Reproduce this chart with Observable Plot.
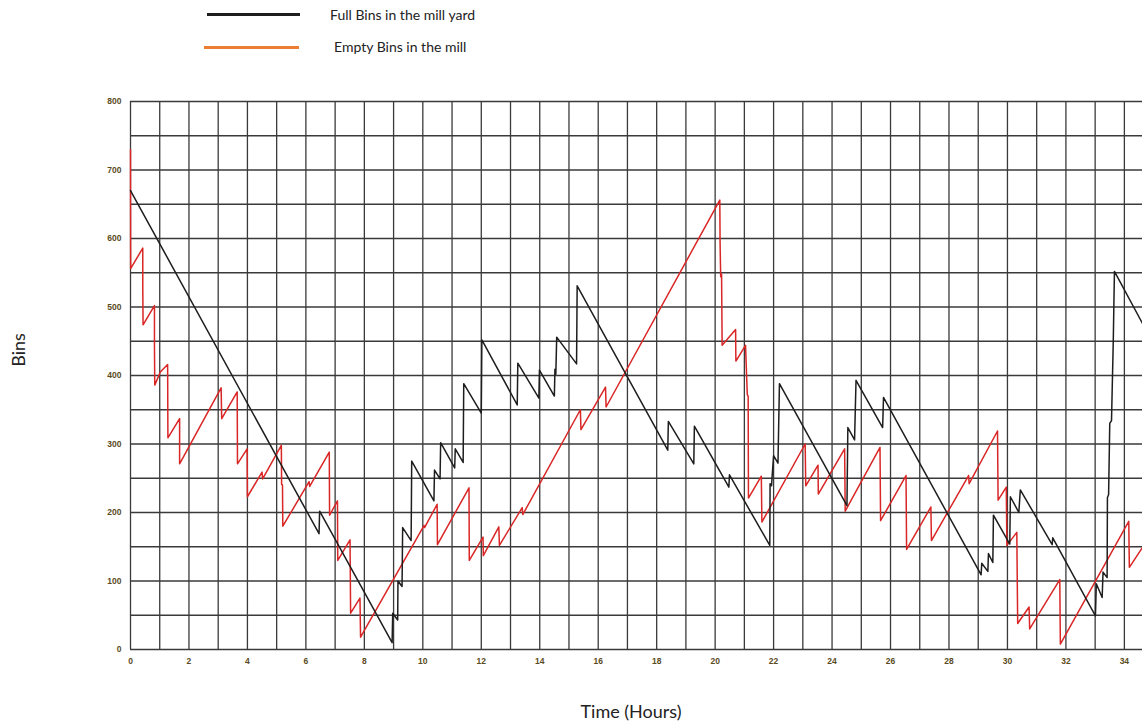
<!DOCTYPE html>
<html>
<head>
<meta charset="utf-8">
<script src="https://cdn.jsdelivr.net/npm/d3@7"></script>
<script src="https://cdn.jsdelivr.net/npm/@observablehq/plot@0.6"></script>
<style>
  html, body { margin: 0; padding: 0; background: #fff; }
  #wrap { position: relative; width: 1142px; height: 722px; overflow: hidden; }
  #chart { position: absolute; left: 0; top: 0; }
  .lg-line { position: absolute; height: 3px; }
  .lg-text { position: absolute; font-family: Lato, "Open Sans", sans-serif; font-size: 14px; color: #222; white-space: nowrap; line-height: 16px; }
  .ttl { position: absolute; font-family: Lato, "Open Sans", sans-serif; font-size: 18px; color: #222; white-space: nowrap; line-height: 20px; }
</style>
</head>
<body>
<div id="wrap">
  <div id="chart"></div>
  <div class="lg-line" style="left:207px; top:13px; width:93px; background:#1e1e1e;"></div>
  <div class="lg-text" style="left:330px; top:7px;">Full Bins in the mill yard</div>
  <div class="lg-line" style="left:204px; top:45.5px; width:95px; background:#ed7d31;"></div>
  <div class="lg-text" style="left:334px; top:39px;">Empty Bins in the mill</div>
  <div class="ttl" style="left:631px; top:701px; transform:translateX(-50%);">Time (Hours)</div>
  <div class="ttl" style="left:18px; top:350px; transform:translate(-50%,-50%) rotate(-90deg);">Bins</div>
</div>
<script>
// Full bins in the mill yard (black)
const hoursFull = [0, 6.45, 6.47, 8.95, 8.97, 9.14, 9.15, 9.29, 9.31, 9.60, 9.62, 10.38, 10.40, 10.59, 10.61, 11.09, 11.11, 11.38, 11.40, 12.00, 12.02, 13.23, 13.25, 13.97, 13.99, 14.50, 14.52, 14.55, 14.58, 15.26, 15.28, 18.38, 18.40, 19.27, 19.29, 20.47, 20.49, 21.87, 21.88, 21.93, 21.95, 22.00, 22.15, 22.20, 24.51, 24.54, 24.77, 24.82, 25.73, 25.76, 29.10, 29.12, 29.33, 29.35, 29.50, 29.52, 30.08, 30.10, 30.39, 30.44, 31.53, 31.55, 33.01, 33.04, 33.24, 33.27, 33.41, 33.42, 33.46, 33.50, 33.56, 33.62, 33.66, 34.62];
const binsFull  = [670, 169, 202, 10, 53, 43, 100, 92, 178, 159, 275, 217, 262, 249, 302, 265, 293, 273, 388, 345, 452, 357, 418, 367, 408, 370, 409, 402, 456, 417, 531, 291, 333, 271, 326, 237, 255, 152, 242, 239, 253, 283, 272, 388, 210, 324, 306, 393, 324, 368, 109, 126, 114, 140, 127, 196, 154, 223, 200, 233, 153, 163, 49, 96, 76, 113, 105, 222, 226, 330, 334, 450, 552, 476];

// Empty bins in the mill (red)
const hoursEmpty = [0, 0.005, 0.42, 0.42, 0.43, 0.82, 0.82, 0.83, 1.02, 1.27, 1.28, 1.68, 1.68, 3.10, 3.12, 3.65, 3.66, 3.99, 4.00, 4.50, 4.52, 5.16, 5.17, 5.20, 5.21, 6.11, 6.13, 6.80, 6.81, 7.08, 7.09, 7.51, 7.53, 7.85, 7.87, 10.04, 10.06, 10.49, 10.50, 11.58, 11.59, 12.06, 12.07, 12.60, 12.62, 13.40, 13.42, 15.39, 15.41, 16.25, 16.27, 20.16, 20.17, 20.19, 20.22, 20.24, 20.70, 20.71, 21.04, 21.10, 21.13, 21.14, 21.58, 21.60, 23.08, 23.10, 23.52, 23.53, 24.43, 24.45, 25.64, 25.66, 26.53, 26.55, 27.38, 27.40, 28.67, 28.69, 29.66, 29.68, 29.96, 29.98, 30.32, 30.35, 30.74, 30.76, 31.79, 31.81, 34.15, 34.17, 34.62];
const binsEmpty  = [730, 556, 586, 529, 474, 502, 444, 386, 405, 416, 309, 337, 271, 382, 337, 376, 271, 293, 223, 259, 249, 298, 241, 240, 180, 245, 238, 288, 196, 217, 130, 160, 53, 75, 18, 181, 178, 212, 153, 236, 130, 164, 137, 179, 152, 207, 197, 350, 321, 383, 354, 656, 592, 544, 548, 444, 467, 421, 444, 372, 370, 221, 253, 186, 300, 239, 269, 227, 293, 202, 295, 188, 254, 146, 208, 159, 254, 242, 319, 218, 237, 152, 171, 38, 62, 30, 102, 8, 187, 120, 149];

// Axes ticks and grid
const xTicks = [0, 2, 4, 6, 8, 10, 12, 14, 16, 18, 20, 22, 24, 26, 28, 30, 32, 34];
const yTicks = [0, 100, 200, 300, 400, 500, 600, 700, 800];
const xGrid = d3.range(0, 35, 1);
const yGrid = d3.range(0, 801, 50);

const full = hoursFull.map((h, i) => ({h, v: binsFull[i]}));
const empty = hoursEmpty.map((h, i) => ({h, v: binsEmpty[i]}));

const tickColor = "#5a4b22";
const chart = Plot.plot({
  width: 1142,
  height: 722,
  marginTop: 101,
  marginBottom: 73,
  marginLeft: 130,
  marginRight: 0,
  x: {domain: [0, 34.62]},
  y: {domain: [0, 800]},
  style: {fontFamily: "Arial, 'Liberation Sans', sans-serif", fontSize: "8.5px", fontWeight: "bold", background: "transparent"},
  marks: [
    Plot.gridX(xGrid, {stroke: "#3a3a3a", strokeOpacity: 1, strokeWidth: 1.3}),
    Plot.gridY(yGrid, {stroke: "#3a3a3a", strokeOpacity: 1, strokeWidth: 1.3}),
    Plot.axisX({ticks: xTicks, tickSize: 0, tickPadding: 8, fill: tickColor, label: null}),
    Plot.axisY({ticks: yTicks, tickSize: 0, tickPadding: 9, fill: tickColor, label: null}),
    Plot.line(empty, {x: "h", y: "v", stroke: "#d92626", strokeWidth: 1.5, curve: "linear"}),
    Plot.line(full, {x: "h", y: "v", stroke: "#1e1e1e", strokeWidth: 1.5, curve: "linear"})
  ]
});
document.getElementById("chart").appendChild(chart);
</script>
</body>
</html>
